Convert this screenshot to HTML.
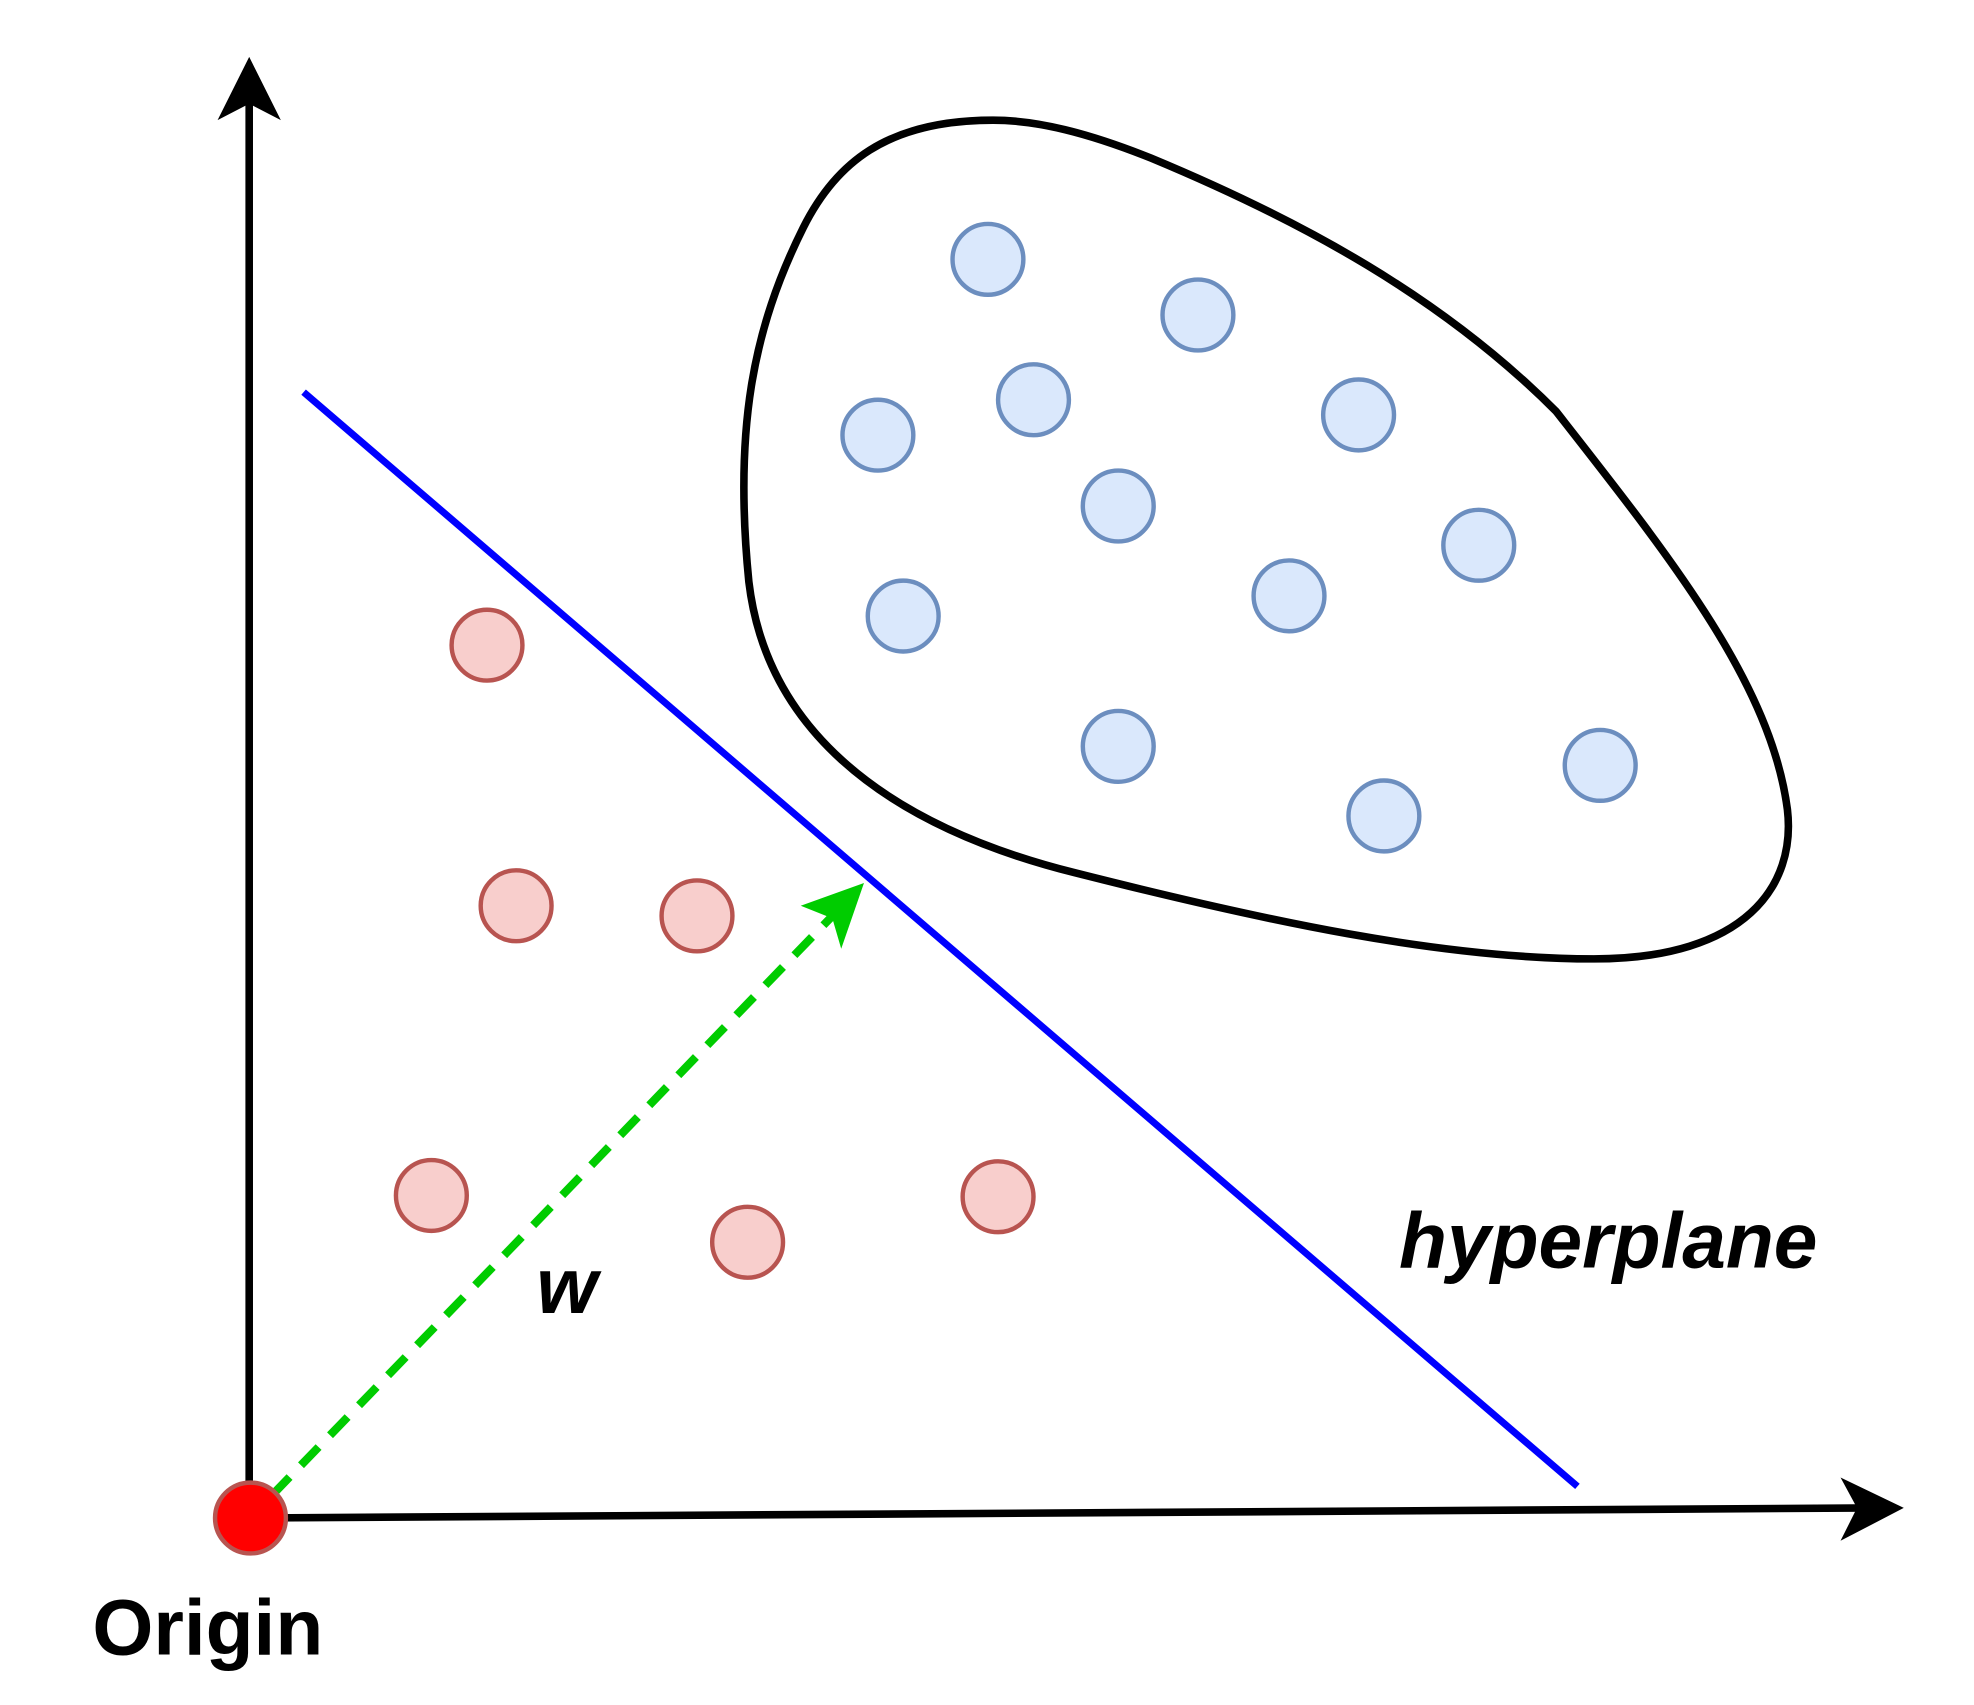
<!DOCTYPE html>
<html><head><meta charset="utf-8"><style>html,body{margin:0;padding:0;background:#fff}svg{display:block}</style></head>
<body>
<svg width="1974" height="1705" viewBox="0 0 1560.5 1347.8" preserveAspectRatio="none" xmlns="http://www.w3.org/2000/svg">
<rect width="1560.5" height="1347.8" fill="#fff"/>
<!-- axes -->
<line x1="197" y1="1200" x2="197" y2="80" stroke="#000" stroke-width="6"/>
<polygon points="197,45 222,95 197,82 172,95" fill="#000"/>
<line x1="197" y1="1200" x2="1480" y2="1192" stroke="#000" stroke-width="6"/>
<polygon points="1505,1192 1455,1218 1468,1192 1455,1168" fill="#000"/>
<!-- blob -->
<path d="M785,95 C700,95 660,130 635,180 C595,260 580,340 592,460 C605,570 690,650 850,690 C1000,728 1140,758 1260,758 C1380,758 1420,700 1413,640 C1400,540 1320,440 1230,325 C1140,235 1030,175 910,125 C860,105 820,95 785,95 Z" fill="none" stroke="#000" stroke-width="6"/>
<!-- hyperplane -->
<line x1="240" y1="310" x2="1247" y2="1175" stroke="#0000ff" stroke-width="5.5"/>
<!-- w vector -->
<line x1="215" y1="1182" x2="660" y2="722" stroke="#00cc00" stroke-width="6.5" stroke-dasharray="20,13"/>
<polygon points="683,698 665,750 658,726 633,716" fill="#00cc00"/>
<!-- blue points -->
<g fill="#dae8fc" stroke="#6c8ebf" stroke-width="3.5">
<circle cx="781" cy="205" r="28"/><circle cx="947" cy="249" r="28"/><circle cx="694" cy="344" r="28"/>
<circle cx="817" cy="316" r="28"/><circle cx="1074" cy="328" r="28"/><circle cx="884" cy="400" r="28"/>
<circle cx="1169" cy="431" r="28"/><circle cx="714" cy="487" r="28"/><circle cx="1019" cy="471" r="28"/>
<circle cx="884" cy="590" r="28"/><circle cx="1265" cy="605" r="28"/><circle cx="1094" cy="645" r="28"/>
</g>
<!-- red points -->
<g fill="#f8cecc" stroke="#b85450" stroke-width="3.5">
<circle cx="385" cy="510" r="28"/><circle cx="408" cy="716" r="28"/><circle cx="551" cy="724" r="28"/>
<circle cx="341" cy="945" r="28"/><circle cx="591" cy="982" r="28"/><circle cx="789" cy="946" r="28"/>
</g>
<circle cx="198" cy="1200" r="28" fill="#ff0000" stroke="#b85450" stroke-width="3.5"/>
<!-- labels -->
<text x="1106" y="1002" font-family="Liberation Sans, sans-serif" font-size="62" font-weight="bold" font-style="italic" fill="#000">hyperplane</text>
<text x="424" y="1038" font-family="Liberation Sans, sans-serif" font-size="62" font-weight="bold" font-style="italic" fill="#000">w</text>
<text x="73" y="1308" font-family="Liberation Sans, sans-serif" font-size="62" font-weight="bold" fill="#000">Origin</text>
</svg>
</body></html>
